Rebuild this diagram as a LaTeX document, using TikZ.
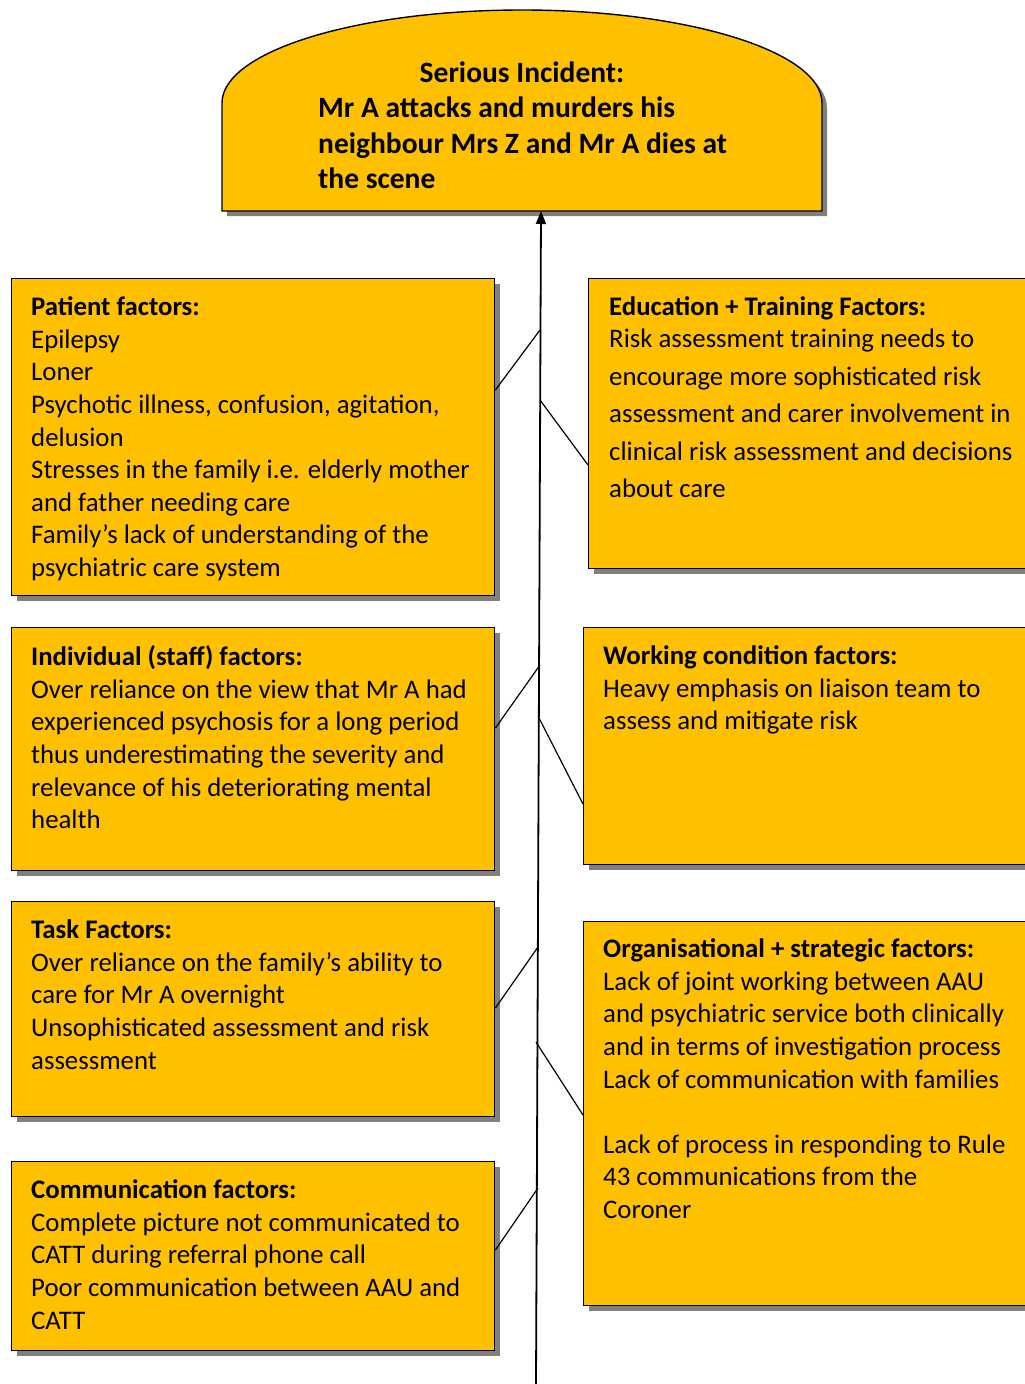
\documentclass[tikz,border=0pt]{standalone}
\usepackage{fontspec}
\setmainfont{Carlito}
\usetikzlibrary{shadows,arrows.meta}
\definecolor{gold}{HTML}{FFC000}
\definecolor{shade}{HTML}{808080}
\begin{document}
\begin{tikzpicture}[x=1pt,y=-1pt,
  factor/.style={draw=black,line width=1.4pt,fill=gold,rectangle,inner sep=0pt,anchor=north west,
    drop shadow={shadow xshift=5pt,shadow yshift=-5pt,fill=shade,opacity=1}},
  txt/.style={anchor=north west,inner sep=0pt,align=left,font=\fontsize{26.8}{32.6}\selectfont},
  head/.style={inner sep=0pt,font=\fontsize{29.5}{35.5}\selectfont\bfseries},
  branch/.style={line width=1.2pt,black},
  spine/.style={line width=1.8pt,black,-{Triangle[length=13pt,width=10pt]}}]
\useasboundingbox (0,0) rectangle (1025,1384);

% incident dome at the head of the spine
\path[draw=black,line width=1.4pt,fill=gold,
  drop shadow={shadow xshift=5pt,shadow yshift=-5pt,fill=shade,opacity=1}]
  (222,211) -- (822,211) -- (822,103) arc[start angle=0,end angle=-180,x radius=300,y radius=93] -- cycle;
\node[inner sep=0pt,anchor=south] (incident) at (541,211) {};
\node[head,anchor=north] (incTitle) at (522,61.6) {Serious Incident:};
\node[head,anchor=north west,align=left] (incText) at (318,96.6)
  {Mr A attacks and murders his\\neighbour Mrs Z and Mr A dies at\\the scene};

% factor boxes
\node[factor,minimum width=483,minimum height=317] (patient) at (11,278) {};
\node[factor,minimum width=460,minimum height=290] (education) at (588,278) {};
\node[factor,minimum width=483,minimum height=243] (individual) at (11,627) {};
\node[factor,minimum width=465,minimum height=237] (working) at (583,627) {};
\node[factor,minimum width=483,minimum height=215] (task) at (11,901) {};
\node[factor,minimum width=465,minimum height=384] (organisational) at (583,921) {};
\node[factor,minimum width=483,minimum height=189] (communication) at (11,1161) {};

% box texts
\node[txt] (patientText) at (31,296.6) {\textbf{Patient factors:}\\Epilepsy\\Loner\\Psychotic illness, confusion, agitation,\\delusion\\Stresses in the family i.e. elderly mother\\and father needing care\\Family’s lack of understanding of the\\psychiatric care system};
\node[txt,font=\fontsize{26.8}{37.5}\selectfont] (educationText) at (609,296.6) {\textbf{Education + Training Factors:}\\[-5.5pt]Risk assessment training needs to\\encourage more sophisticated risk\\assessment and carer involvement in\\clinical risk assessment and decisions\\about care};
\node[txt] (individualText) at (31,645.6) {\textbf{Individual (staff) factors:}\\Over reliance on the view that Mr A had\\experienced psychosis for a long period\\thus underestimating the severity and\\relevance of his deteriorating mental\\health};
\node[txt] (workingText) at (603,645.6) {\textbf{Working condition factors:}\\Heavy emphasis on liaison team to\\assess and mitigate risk};
\node[txt] (taskText) at (31,919.6) {\textbf{Task Factors:}\\Over reliance on the family’s ability to\\care for Mr A overnight\\Unsophisticated assessment and risk\\assessment};
\node[txt] (organisationalText) at (603,938.6) {\textbf{Organisational + strategic factors:}\\Lack of joint working between AAU\\and psychiatric service both clinically\\and in terms of investigation process\\Lack of communication with families\\[32.6pt]Lack of process in responding to Rule\\43 communications from the\\Coroner};
\node[txt] (communicationText) at (31,1179.6) {\textbf{Communication factors:}\\Complete picture not communicated to\\CATT during referral phone call\\Poor communication between AAU and\\CATT};

% spine
\coordinate (tail) at (536,1384);
\draw[spine] (tail) -- (incident.south);

% joints on the spine
\coordinate (jP) at (540,330);
\coordinate (jE) at (540,400);
\coordinate (jI) at (540,665);
\coordinate (jW) at (539,718);
\coordinate (jT) at (538,947);
\coordinate (jO) at (536,1042);
\coordinate (jC) at (538,1188);

% branches from each box to the spine
\draw[branch] (patient.east |- 0,390) -- (jP);
\draw[branch] (education.west |- 0,465) -- (jE);
\draw[branch] (individual.east |- 0,728) -- (jI);
\draw[branch] (working.west |- 0,804) -- (jW);
\draw[branch] (task.east |- 0,1008) -- (jT);
\draw[branch] (organisational.west |- 0,1115) -- (jO);
\draw[branch] (communication.east |- 0,1250) -- (jC);
\end{tikzpicture}
\end{document}
